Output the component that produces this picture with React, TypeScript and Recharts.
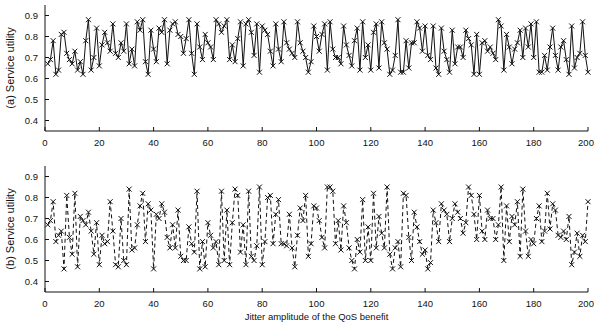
import { LineChart, Line, XAxis, YAxis, Label } from 'recharts';

// service utility per jitter step (x = 1..200)
const utilityA = [
  0.67, 0.69, 0.78, 0.62, 0.64, 0.81, 0.82, 0.72, 0.69, 0.67,
  0.73, 0.64, 0.68, 0.62, 0.78, 0.88, 0.64, 0.70, 0.84, 0.66,
  0.76, 0.82, 0.77, 0.73, 0.86, 0.72, 0.70, 0.77, 0.73, 0.86,
  0.67, 0.74, 0.66, 0.87, 0.83, 0.88, 0.68, 0.62, 0.83, 0.74,
  0.68, 0.84, 0.82, 0.88, 0.67, 0.83, 0.86, 0.87, 0.81, 0.80,
  0.72, 0.79, 0.88, 0.72, 0.62, 0.86, 0.75, 0.69, 0.81, 0.77,
  0.75, 0.69, 0.88, 0.86, 0.82, 0.85, 0.88, 0.69, 0.76, 0.68,
  0.79, 0.87, 0.66, 0.86, 0.88, 0.82, 0.71, 0.86, 0.63, 0.85,
  0.83, 0.81, 0.73, 0.66, 0.86, 0.74, 0.68, 0.87, 0.77, 0.74,
  0.72, 0.70, 0.87, 0.77, 0.73, 0.70, 0.63, 0.68, 0.85, 0.80,
  0.73, 0.81, 0.86, 0.64, 0.87, 0.74, 0.70, 0.70, 0.67, 0.85,
  0.76, 0.71, 0.66, 0.78, 0.84, 0.64, 0.87, 0.70, 0.76, 0.64,
  0.82, 0.86, 0.65, 0.87, 0.77, 0.74, 0.62, 0.64, 0.71, 0.88,
  0.63, 0.63, 0.78, 0.65, 0.77, 0.77, 0.87, 0.84, 0.73, 0.85,
  0.71, 0.69, 0.85, 0.65, 0.62, 0.84, 0.73, 0.69, 0.63, 0.83,
  0.67, 0.75, 0.75, 0.70, 0.83, 0.79, 0.76, 0.62, 0.81, 0.62,
  0.77, 0.78, 0.73, 0.75, 0.72, 0.69, 0.88, 0.85, 0.64, 0.81,
  0.75, 0.67, 0.74, 0.77, 0.83, 0.70, 0.84, 0.75, 0.86, 0.70,
  0.87, 0.63, 0.63, 0.71, 0.64, 0.75, 0.84, 0.71, 0.64, 0.75,
  0.78, 0.69, 0.62, 0.85, 0.65, 0.70, 0.72, 0.87, 0.71, 0.63,
];

const utilityB = [
  0.67, 0.69, 0.78, 0.59, 0.62, 0.64, 0.46, 0.81, 0.61, 0.53,
  0.82, 0.47, 0.71, 0.69, 0.67, 0.73, 0.64, 0.53, 0.68, 0.48,
  0.62, 0.58, 0.59, 0.78, 0.64, 0.48, 0.47, 0.70, 0.50, 0.48,
  0.84, 0.55, 0.56, 0.67, 0.76, 0.82, 0.59, 0.77, 0.74, 0.46,
  0.72, 0.70, 0.77, 0.73, 0.61, 0.56, 0.67, 0.56, 0.74, 0.52,
  0.50, 0.50, 0.66, 0.58, 0.54, 0.83, 0.46, 0.59, 0.47, 0.68,
  0.62, 0.56, 0.59, 0.48, 0.83, 0.50, 0.74, 0.48, 0.68, 0.84,
  0.81, 0.54, 0.67, 0.48, 0.83, 0.52, 0.50, 0.57, 0.85, 0.48,
  0.59, 0.80, 0.81, 0.58, 0.72, 0.79, 0.58, 0.58, 0.57, 0.72,
  0.56, 0.47, 0.62, 0.75, 0.69, 0.81, 0.52, 0.58, 0.76, 0.75,
  0.69, 0.61, 0.56, 0.85, 0.85, 0.83, 0.58, 0.69, 0.55, 0.76,
  0.68, 0.56, 0.50, 0.46, 0.60, 0.54, 0.79, 0.50, 0.66, 0.50,
  0.82, 0.56, 0.71, 0.63, 0.56, 0.85, 0.53, 0.46, 0.56, 0.59,
  0.47, 0.82, 0.81, 0.61, 0.50, 0.73, 0.66, 0.59, 0.53, 0.55,
  0.46, 0.49, 0.74, 0.68, 0.59, 0.77, 0.74, 0.72, 0.59, 0.70,
  0.77, 0.73, 0.70, 0.63, 0.68, 0.85, 0.81, 0.72, 0.60, 0.81,
  0.64, 0.60, 0.74, 0.70, 0.70, 0.60, 0.67, 0.85, 0.50, 0.76,
  0.59, 0.71, 0.67, 0.78, 0.52, 0.84, 0.64, 0.52, 0.60, 0.58,
  0.70, 0.76, 0.59, 0.64, 0.82, 0.65, 0.77, 0.74, 0.62, 0.61,
  0.64, 0.60, 0.71, 0.48, 0.54, 0.63, 0.52, 0.62, 0.59, 0.78,
];

const xTicks = [0, 20, 40, 60, 80, 100, 120, 140, 160, 180, 200];
const yTicks = [0.4, 0.5, 0.6, 0.7, 0.8, 0.9];

const rows = utilityA.map((a, i) => ({ x: i + 1, a, b: utilityB[i] }));

const FONT = '"Liberation Sans", Arial, sans-serif';
const INK = '#111';

const Cross = (props: any) => {
  const { cx, cy, index } = props;
  if (cx == null || cy == null) return null;
  const s = 2.5;
  return (
    <path
      key={index}
      d={`M${cx - s},${cy - s}L${cx + s},${cy + s}M${cx - s},${cy + s}L${cx + s},${cy - s}`}
      stroke={INK}
      strokeWidth={1}
      fill="none"
    />
  );
};

// last label sits against the window edge, nudge it in a bit
const XTick = (props: any) => {
  const { x, y, payload } = props;
  const last = payload.value === 200;
  return (
    <text
      x={last ? x - 2 : x}
      y={y}
      dy="0.71em"
      textAnchor="middle"
      fontSize={9.5}
      fontFamily={FONT}
      fill={INK}
    >
      {payload.value}
    </text>
  );
};

const Panel = ({
  dataKey,
  label,
  dashed,
  height,
  top,
  xLabel,
}: {
  dataKey: string;
  label: string;
  dashed: boolean;
  height: number;
  top: number;
  xLabel?: string;
}) => {
  return (
    <LineChart
      width={594}
      height={height}
      data={rows}
      margin={{ top, right: 6, bottom: 0, left: 0 }}
    >
      <XAxis
        dataKey="x"
        type="number"
        domain={[0, 200]}
        ticks={xTicks}
        tick={<XTick />}
        tickSize={-4}
        tickMargin={12}
        height={height - top - 126}
        stroke={INK}
        interval={0}
      >
        {xLabel && (
          <Label
            value={xLabel}
            position="insideBottom"
            offset={9}
            style={{ fontSize: 9.5, fill: INK, fontFamily: FONT }}
          />
        )}
      </XAxis>
      <XAxis
        xAxisId="top"
        orientation="top"
        dataKey="x"
        type="number"
        domain={[0, 200]}
        ticks={xTicks}
        tick={false}
        tickSize={-4}
        height={0}
        stroke={INK}
      />
      <YAxis
        type="number"
        domain={[0.35, 0.95]}
        ticks={yTicks}
        tick={{ fontSize: 9.5, fill: INK, fontFamily: FONT }}
        tickSize={-4}
        tickMargin={11}
        width={45}
        stroke={INK}
        interval={0}
      >
        <Label
          value={label}
          angle={-90}
          position="center"
          dx={-12}
          style={{ fontSize: 11, fill: INK, fontFamily: FONT, textAnchor: 'middle' }}
        />
      </YAxis>
      <YAxis
        yAxisId="right"
        orientation="right"
        type="number"
        domain={[0.35, 0.95]}
        ticks={yTicks}
        tick={false}
        tickSize={-4}
        width={0}
        stroke={INK}
      />
      <Line
        type="linear"
        dataKey={dataKey}
        stroke={INK}
        strokeWidth={1}
        strokeDasharray={dashed ? '4 3' : undefined}
        dot={Cross}
        activeDot={false}
        isAnimationActive={false}
      />
    </LineChart>
  );
};

export default function App() {
  return (
    <div
      style={{
        position: 'absolute',
        left: 0,
        top: 0,
        width: 594,
        height: 329,
        background: '#fff',
      }}
    >
      <Panel dataKey="a" label="(a) Service utility" dashed={false} height={160} top={5} />
      <Panel
        dataKey="b"
        label="(b) Service utility"
        dashed={true}
        height={169}
        top={6}
        xLabel="Jitter amplitude of the QoS benefit"
      />
    </div>
  );
}
